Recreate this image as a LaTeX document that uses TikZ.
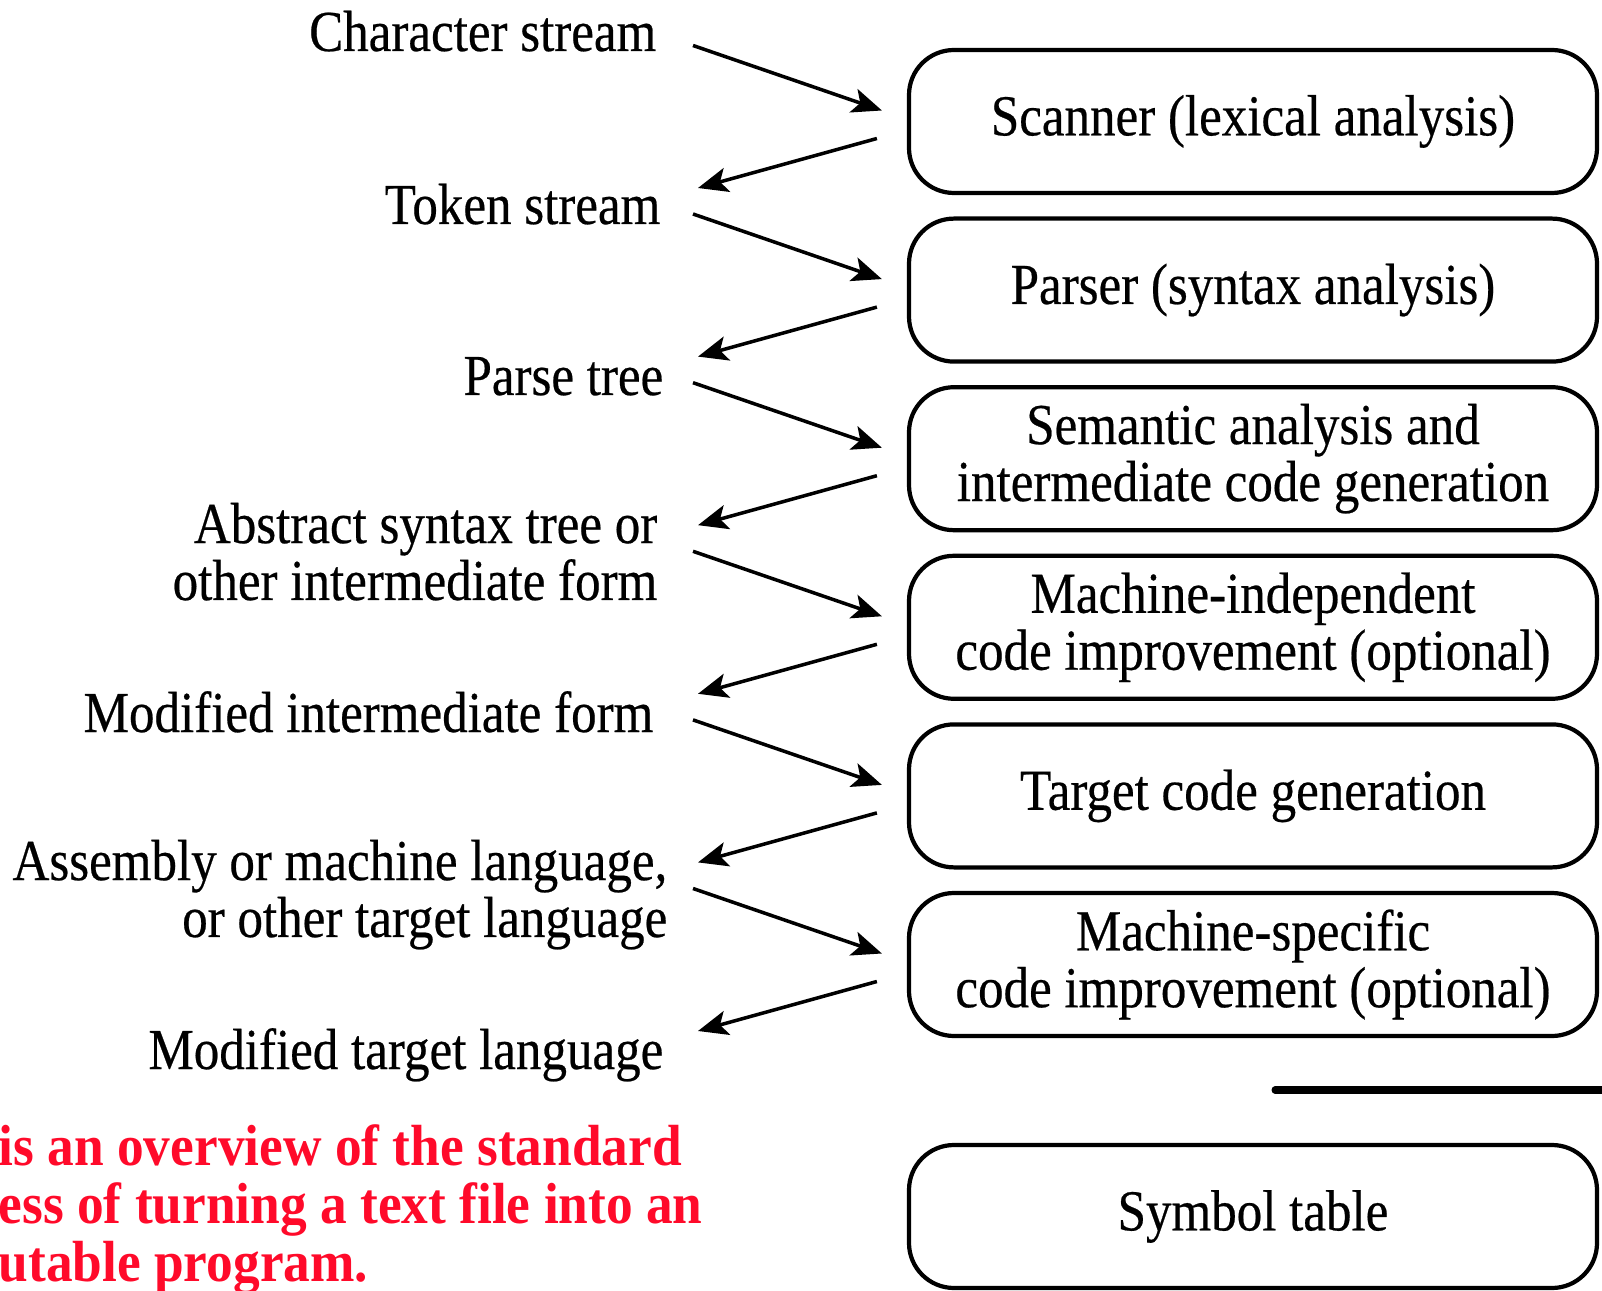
\documentclass[tikz,border=0pt]{standalone}
\usepackage{fontspec}
\setmainfont{Liberation Serif}[FakeStretch=0.88, FakeBold=0.4]
\newfontfamily\notefont{Liberation Serif}[FakeStretch=0.92]
\usetikzlibrary{arrows.meta, calc}
\definecolor{notered}{HTML}{FF0A2A}

\begin{document}
\begin{tikzpicture}[
    phase/.style={
        rectangle,
        rounded corners=0.45cm,
        minimum width=6.88cm,
        minimum height=1.43cm,
        inner sep=0pt,
        draw=black,
        line width=1.2pt,
        align=center,
        font=\fontsize{16.5pt}{16.2pt}\selectfont
    },
    stream/.style={
        anchor=base east,
        inner sep=0pt,
        align=right,
        font=\fontsize{16.5pt}{16.2pt}\selectfont
    },
    arrow/.style={
        -{Stealth[length=8.5pt, width=7pt, inset=2pt]},
        line width=1pt
    }
]

\useasboundingbox (0,0) rectangle (16.02,-12.91);

% Phases
\node[phase] (scan) at (12.53,-1.215) {Scanner (lexical analysis)};
\node[phase] (pars) at (12.53,-2.901) {Parser (syntax analysis)};
\node[phase] (sem) at (12.53,-4.587) {Semantic analysis and\\intermediate code generation};
\node[phase] (mind) at (12.53,-6.273) {Machine-independent\\code improvement (optional)};
\node[phase] (tgen) at (12.53,-7.959) {Target code generation};
\node[phase] (mspec) at (12.53,-9.645) {Machine-specific\\code improvement (optional)};

% Streams between phases
\node[stream] (chr) at (6.57,-0.51) {Character stream};
\node[stream] (tok) at (6.61,-2.24) {Token stream};
\node[stream] (prs) at (6.64,-3.95) {Parse tree};
\node[stream] (ast) at (6.58,-6.00) {Abstract syntax tree or\\other intermediate form};
\node[stream] (mif) at (6.54,-7.32) {Modified intermediate form};
\node[stream] (asm) at (6.68,-9.37) {Assembly or machine language,\\or other target language};
\node[stream] (mtl) at (6.64,-10.69) {Modified target language};

% Into each phase
\draw[arrow] (chr.base east) ++(0.36,0.055) -- ([xshift=-0.25cm,yshift=0.11cm]scan.west);
\draw[arrow] (tok.base east) ++(0.32,0.10) -- ([xshift=-0.25cm,yshift=0.11cm]pars.west);
\draw[arrow] (prs.base east) ++(0.29,0.123) -- ([xshift=-0.25cm,yshift=0.11cm]sem.west);
\draw[arrow] (ast.base east) ++(0.35,0.487) -- ([xshift=-0.25cm,yshift=0.11cm]mind.west);
\draw[arrow] (mif.base east) ++(0.39,0.121) -- ([xshift=-0.25cm,yshift=0.11cm]tgen.west);
\draw[arrow] (asm.base east) ++(0.25,0.485) -- ([xshift=-0.25cm,yshift=0.11cm]mspec.west);

% Out of each phase
\draw[arrow] (scan.west) ++(-0.30,-0.17) -- ([xshift=0.37cm,yshift=0.36cm]tok.base east);
\draw[arrow] (pars.west) ++(-0.30,-0.17) -- ([xshift=0.34cm,yshift=0.384cm]prs.base east);
\draw[arrow] (sem.west) ++(-0.30,-0.17) -- ([xshift=0.40cm,yshift=0.748cm]ast.base east);
\draw[arrow] (mind.west) ++(-0.30,-0.17) -- ([xshift=0.44cm,yshift=0.382cm]mif.base east);
\draw[arrow] (tgen.west) ++(-0.30,-0.17) -- ([xshift=0.30cm,yshift=0.746cm]asm.base east);
\draw[arrow] (mspec.west) ++(-0.30,-0.17) -- ([xshift=0.34cm,yshift=0.38cm]mtl.base east);

% Separator and symbol table
\draw[line width=2pt, line cap=round] (12.75,-10.90) -- (16.2,-10.90);
\node[phase] (sym) at (12.53,-12.165) {Symbol table};

% Note
\node[anchor=base west, inner sep=0pt, align=left, text=notered,
      font=\notefont\bfseries\fontsize{16.5pt}{16.5pt}\selectfont] (note) at (-0.02,-12.81)
      {is an overview of the standard\\ess of turning a text file into an\\utable program.};

\end{tikzpicture}
\end{document}
